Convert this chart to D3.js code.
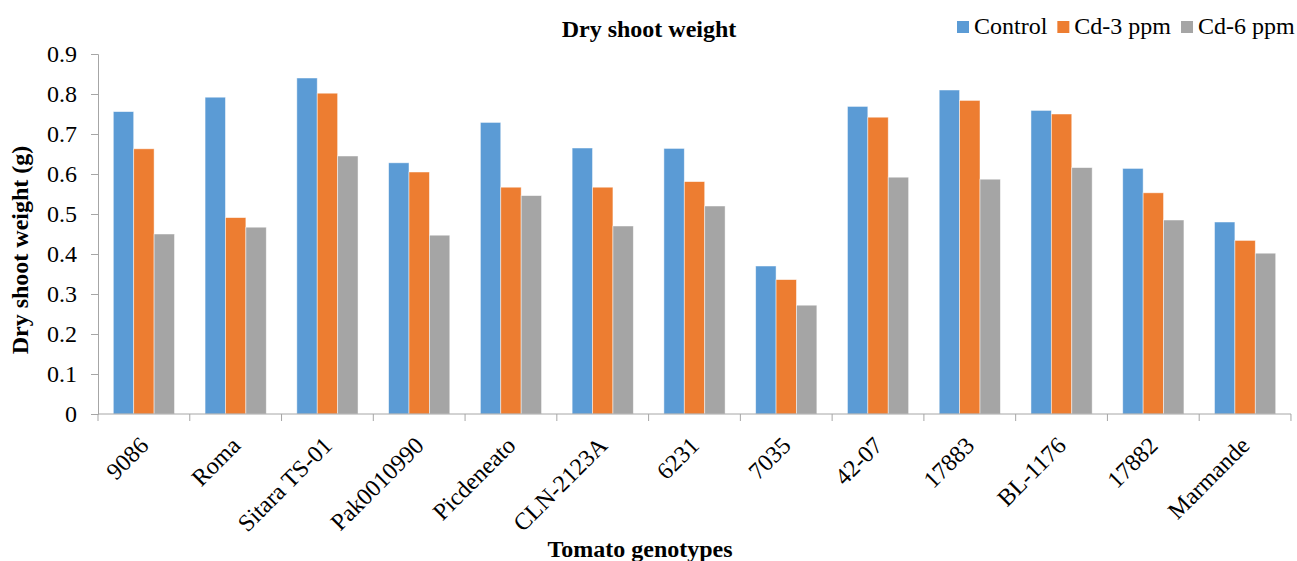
<!DOCTYPE html>
<html>
<head>
<meta charset="utf-8">
<script src="https://cdn.jsdelivr.net/npm/d3@7"></script>
<style>
  html, body { margin: 0; padding: 0; background: #fff; }
  svg { display: block; font-family: "Liberation Serif", "Times New Roman", serif; }
</style>
</head>
<body>
<svg id="chart" width="1297" height="561"></svg>
<script>
// Genotypes on the x axis
const genotypes = ["9086", "Roma", "Sitara TS-01", "Pak0010990", "Picdeneato", "CLN-2123A",
  "6231", "7035", "42-07", "17883", "BL-1176", "17882", "Marmande"];

// Dry shoot weight (g) per treatment
const controlValues = [0.756, 0.792, 0.840, 0.628, 0.729, 0.665, 0.664, 0.370, 0.769, 0.810, 0.759, 0.614, 0.480];
const cd3Values     = [0.663, 0.491, 0.802, 0.605, 0.567, 0.567, 0.581, 0.336, 0.742, 0.784, 0.750, 0.553, 0.434];
const cd6Values     = [0.450, 0.467, 0.645, 0.447, 0.546, 0.470, 0.520, 0.272, 0.592, 0.587, 0.616, 0.485, 0.402];

const seriesNames = ["Control", "Cd-3 ppm", "Cd-6 ppm"];
const yTicks = [0, 0.1, 0.2, 0.3, 0.4, 0.5, 0.6, 0.7, 0.8, 0.9];

const colors = ["#5B9BD5", "#ED7D31", "#A5A5A5"];
const seriesValues = [controlValues, cd3Values, cd6Values];
const FONT = 24;

const svg = d3.select("#chart");
const plot = { left: 98, right: 1291, top: 54, bottom: 414 };

const x = d3.scaleBand()
  .domain(genotypes)
  .range([plot.left, plot.right])
  .paddingInner(0.333)
  .paddingOuter(0.1667);

const xInner = d3.scaleBand()
  .domain(seriesNames)
  .range([0, x.bandwidth()]);

const y = d3.scaleLinear().domain([0, 0.9]).range([plot.bottom, plot.top]);

// Bars
const rows = genotypes.map((g, i) => ({ g, vals: seriesValues.map(s => s[i]) }));
const groups = svg.append("g").selectAll("g")
  .data(rows).join("g")
  .attr("transform", d => `translate(${x(d.g)},0)`);

groups.selectAll("rect")
  .data(d => d.vals.map((v, k) => ({ v, k })))
  .join("rect")
  .attr("x", d => xInner(seriesNames[d.k]))
  .attr("y", d => y(d.v))
  .attr("width", xInner.bandwidth())
  .attr("height", d => y(0) - y(d.v))
  .attr("fill", d => colors[d.k])
  .attr("stroke", "#ffffff")
  .attr("stroke-opacity", 0.6)
  .attr("stroke-width", 0.8);

// Y axis
const yAxis = d3.axisLeft(y).tickValues(yTicks).tickSize(7).tickPadding(14)
  .tickFormat(d => d === 0 ? "0" : d3.format(".1f")(d));
const yg = svg.append("g").attr("transform", `translate(${plot.left},0)`).call(yAxis);
yg.select(".domain").attr("stroke", "#A6A6A6");
yg.selectAll(".tick line").attr("stroke", "#A6A6A6");
yg.selectAll(".tick text")
  .attr("font-family", "Liberation Serif")
  .attr("font-size", FONT)
  .attr("fill", "#000");

// X axis: line plus ticks at category boundaries
const xg = svg.append("g").attr("transform", `translate(0,${plot.bottom})`);
xg.append("line")
  .attr("x1", plot.left).attr("x2", plot.right)
  .attr("y1", 0).attr("y2", 0)
  .attr("stroke", "#A6A6A6");
const step = x.step();
const bounds = d3.range(genotypes.length + 1).map(i => plot.left + i * step);
xg.selectAll("line.tk").data(bounds).join("line")
  .attr("class", "tk")
  .attr("x1", d => d).attr("x2", d => d)
  .attr("y1", 0).attr("y2", 7)
  .attr("stroke", "#A6A6A6");

xg.selectAll("text.lbl").data(genotypes).join("text")
  .attr("class", "lbl")
  .attr("text-anchor", "end")
  .attr("font-size", FONT)
  .attr("fill", "#000")
  .attr("transform", d => `translate(${x(d) + x.bandwidth() / 2 + 6},${33}) rotate(-45)`)
  .text(d => d);

// Titles
svg.append("text")
  .attr("x", 649).attr("y", 37)
  .attr("text-anchor", "middle")
  .attr("font-weight", "bold")
  .attr("font-size", FONT)
  .text("Dry shoot weight");

svg.append("text")
  .attr("transform", "translate(28,250) rotate(-90)")
  .attr("text-anchor", "middle")
  .attr("font-weight", "bold")
  .attr("font-size", FONT)
  .text("Dry shoot weight (g)");

svg.append("text")
  .attr("x", 640).attr("y", 557)
  .attr("text-anchor", "middle")
  .attr("font-weight", "bold")
  .attr("font-size", FONT)
  .text("Tomato genotypes");

// Legend: swatch, label, laid out left to right
const legend = svg.append("g");
let lx = 957;
seriesNames.forEach((name, i) => {
  legend.append("rect")
    .attr("x", lx).attr("y", 21).attr("width", 12).attr("height", 12)
    .attr("fill", colors[i]);
  const t = legend.append("text")
    .attr("x", lx + 17).attr("y", 34)
    .attr("font-size", FONT)
    .attr("fill", "#000")
    .text(name);
  lx += 17 + t.node().getComputedTextLength() + 10;
});
</script>
</body>
</html>
